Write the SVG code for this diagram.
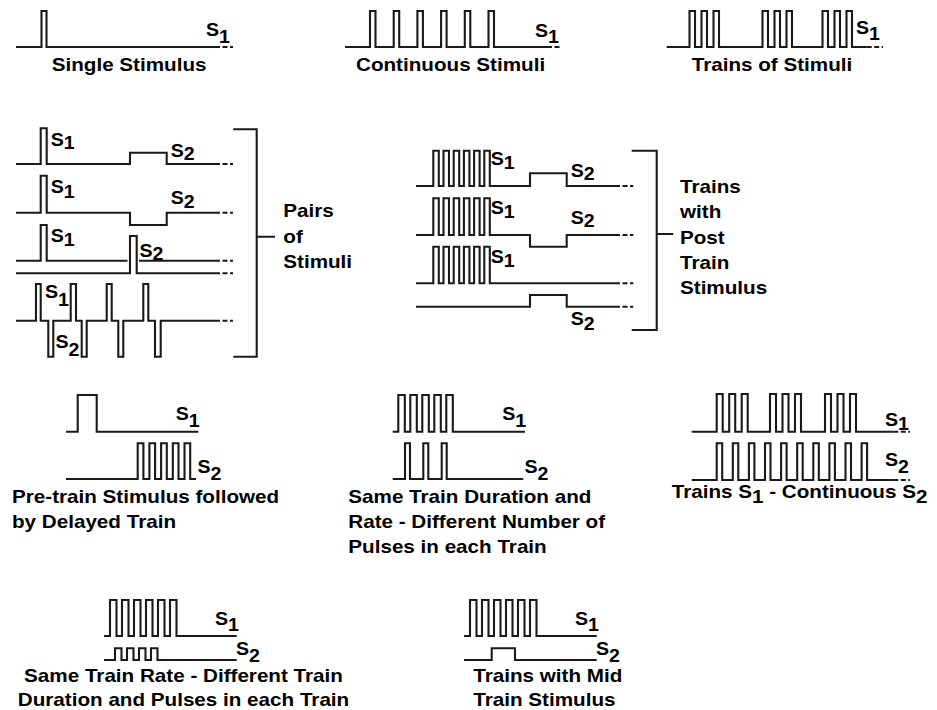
<svg xmlns="http://www.w3.org/2000/svg" width="937" height="710" viewBox="0 0 937 710">
<style>
.w{fill:none;stroke:#1a1a1a;stroke-width:2.1;stroke-linejoin:miter;stroke-linecap:butt}
.d{fill:none;stroke:#1a1a1a;stroke-width:2.1;stroke-dasharray:5 2.5}
.t{font-family:"Liberation Sans",Arial,sans-serif;font-weight:bold;font-size:17.5px;fill:#000}
.s{font-family:"Liberation Sans",Arial,sans-serif;font-weight:bold;font-size:17.5px;fill:#000}
</style>
<rect width="937" height="710" fill="#fff"/>

<g id="single-stimulus">
<path class="w" d="M16,47 H41.5 V11 H46.5 V47 H215"/>
<path class="d" d="M215,47 H233"/>
<text class="s" transform="matrix(1.12 0 0 1 206 35.7)">S<tspan dy="7.5">1</tspan></text>
<text class="t" transform="matrix(1.18 0 0 1 51.7 70.7)">Single Stimulus</text>
</g>

<g id="continuous-stimuli">
<path class="w" d="M345,47 H370 V11 H375.5 V47 H393.7 V11 H399.2 V47 H417.4 V11 H422.9 V47 H441.1 V11 H446.6 V47 H464.8 V11 H470.3 V47 H488.5 V11 H494 V47 H547"/>
<path class="d" d="M547,47 H562"/>
<text class="s" transform="matrix(1.12 0 0 1 535 37)">S<tspan dy="6">1</tspan></text>
<text class="t" transform="matrix(1.18 0 0 1 356 70.7)">Continuous Stimuli</text>
</g>

<g id="trains-of-stimuli">
<path class="w" d="M666.7,47 H689.5 V11 H695 V47 H701.5 V11 H707 V47 H713.5 V11 H719 V47 H762.5 V11 H768 V47 H774.5 V11 H780 V47 H786.5 V11 H792 V47 H822.5 V11 H828 V47 H834.5 V11 H840 V47 H846.5 V11 H852 V47 H866.7"/>
<path class="d" d="M866.7,47 H883"/>
<text class="s" transform="matrix(1.12 0 0 1 856 33.5)">S<tspan dy="6.5">1</tspan></text>
<text class="t" transform="matrix(1.18 0 0 1 691.7 70.7)">Trains of Stimuli</text>
</g>

<g id="pairs-of-stimuli">
<path class="w" d="M16,164 H40.7 V128.3 H46.7 V164 H130 V152.7 H166.7 V164 H215"/>
<path class="d" d="M215,164 H233"/>
<text class="s" transform="matrix(1.12 0 0 1 50.7 146)">S<tspan dy="3.3">1</tspan></text>
<text class="s" transform="matrix(1.12 0 0 1 170.7 157.3)">S<tspan dy="2.7">2</tspan></text>

<path class="w" d="M16,212.7 H40.7 V175.7 H46.7 V212.7 H130 V225 H166.7 V212.7 H215"/>
<path class="d" d="M215,212.7 H233"/>
<text class="s" transform="matrix(1.12 0 0 1 50.7 193.3)">S<tspan dy="4.4">1</tspan></text>
<text class="s" transform="matrix(1.12 0 0 1 170.7 204.3)">S<tspan dy="3.4">2</tspan></text>

<path class="w" d="M16,260.7 H40.7 V225 H46.7 V260.7 H127.5 M139,260.7 H215"/>
<path class="d" d="M215,260.7 H233"/>
<path class="w" d="M16,273.3 H130 V236 H136.7 V273.3 H215"/>
<path class="d" d="M215,273.3 H233"/>
<text class="s" transform="matrix(1.12 0 0 1 50.7 241.7)">S<tspan dy="4.3">1</tspan></text>
<text class="s" transform="matrix(1.12 0 0 1 139.5 256.7)">S<tspan dy="3.3">2</tspan></text>

<path class="w" d="M16,320.7 H36 V284 H40.7 V320.7 H48.3 V356.7 H53.3 V320.7 H70.7 V284 H76 V320.7 H81.7 V356.7 H86.7 V320.7 H106.7 V284 H111.7 V320.7 H118.3 V356.7 H123.3 V320.7 H143.3 V284 H148.3 V320.7 H155 V356.7 H160.7 V320.7 H215"/>
<path class="d" d="M215,320.7 H233"/>
<text class="s" transform="matrix(1.12 0 0 1 45 298.3)">S<tspan dy="8">1</tspan></text>
<text class="s" transform="matrix(1.12 0 0 1 55.5 348.3)">S<tspan dy="8">2</tspan></text>

<path class="w" d="M233.3,129.3 H256.7 V356.7 H233.3 M256.7,236.7 H275"/>
<text class="t" transform="matrix(1.18 0 0 1 283.3 217)">Pairs</text>
<text class="t" transform="matrix(1.18 0 0 1 283.3 242.5)">of</text>
<text class="t" transform="matrix(1.18 0 0 1 283.3 267.5)">Stimuli</text>
</g>

<g id="trains-post-train-stimulus">
<path class="w" d="M416,186 H433.3 V150.7 H438.8 V186 H443.5 V150.7 H449 V186 H453.7 V150.7 H459.2 V186 H463.9 V150.7 H469.4 V186 H474.1 V150.7 H479.6 V186 H484.3 V150.7 H489.8 V186 H530 V173.3 H566.7 V186 H615"/>
<path class="d" d="M615,186 H633.3"/>
<text class="s" transform="matrix(1.12 0 0 1 490.7 165)">S<tspan dy="4.3">1</tspan></text>
<text class="s" transform="matrix(1.12 0 0 1 570.7 177.3)">S<tspan dy="2.7">2</tspan></text>

<path class="w" d="M416,235 H433.3 V198.3 H438.8 V235 H443.5 V198.3 H449 V235 H453.7 V198.3 H459.2 V235 H463.9 V198.3 H469.4 V235 H474.1 V198.3 H479.6 V235 H484.3 V198.3 H489.8 V235 H530 V246.7 H566.7 V235 H615"/>
<path class="d" d="M615,235 H633.3"/>
<text class="s" transform="matrix(1.12 0 0 1 490.7 214)">S<tspan dy="4">1</tspan></text>
<text class="s" transform="matrix(1.12 0 0 1 570.7 224)">S<tspan dy="3">2</tspan></text>

<path class="w" d="M416,283.3 H433.3 V246.7 H438.8 V283.3 H443.5 V246.7 H449 V283.3 H453.7 V246.7 H459.2 V283.3 H463.9 V246.7 H469.4 V283.3 H474.1 V246.7 H479.6 V283.3 H484.3 V246.7 H489.8 V283.3 H615"/>
<path class="d" d="M615,283.3 H633.3"/>
<text class="s" transform="matrix(1.12 0 0 1 490.7 262.7)">S<tspan dy="4">1</tspan></text>

<path class="w" d="M416,306.7 H530 V295 H566.7 V306.7 H615"/>
<path class="d" d="M615,306.7 H633.3"/>
<text class="s" transform="matrix(1.12 0 0 1 570.7 325)">S<tspan dy="5">2</tspan></text>

<path class="w" d="M631.7,150.7 H656.7 V330 H631.7 M656.7,234 H673.3"/>
<text class="t" transform="matrix(1.18 0 0 1 680 192.5)">Trains</text>
<text class="t" transform="matrix(1.18 0 0 1 680 218)">with</text>
<text class="t" transform="matrix(1.18 0 0 1 680 243.5)">Post</text>
<text class="t" transform="matrix(1.18 0 0 1 680 268.5)">Train</text>
<text class="t" transform="matrix(1.18 0 0 1 680 293.5)">Stimulus</text>
</g>

<g id="pre-train-delayed-train">
<path class="w" d="M66,431.7 H77.7 V395 H96.7 V431.7 H198.3"/>
<path class="w" d="M66,479 H137.7 V443.3 H143.4 V479 H149.4 V443.3 H155.1 V479 H161.1 V443.3 H166.8 V479 H172.8 V443.3 H178.5 V479 H184.5 V443.3 H190.2 V479 H196"/>
<text class="s" transform="matrix(1.12 0 0 1 175.7 420)">S<tspan dy="6.7">1</tspan></text>
<text class="s" transform="matrix(1.12 0 0 1 197.5 473.3)">S<tspan dy="6.7">2</tspan></text>
<text class="t" transform="matrix(1.18 0 0 1 12 503.3)">Pre-train Stimulus followed</text>
<text class="t" transform="matrix(1.18 0 0 1 12 528.3)">by Delayed Train</text>
</g>

<g id="same-duration-rate">
<path class="w" d="M392.7,431.7 H398.3 V395 H404.8 V431.7 H410.3 V395 H416.8 V431.7 H422.3 V395 H428.8 V431.7 H434.3 V395 H440.8 V431.7 H446.3 V395 H452.8 V431.7 H525"/>
<path class="w" d="M392.7,479 H405 V443.3 H410 V479 H423.3 V443.3 H428.3 V479 H441.7 V443.3 H446.7 V479 H523.3"/>
<text class="s" transform="matrix(1.12 0 0 1 502.3 420)">S<tspan dy="6.7">1</tspan></text>
<text class="s" transform="matrix(1.12 0 0 1 524.5 473.3)">S<tspan dy="6.7">2</tspan></text>
<text class="t" transform="matrix(1.18 0 0 1 348.3 503.3)">Same Train Duration and</text>
<text class="t" transform="matrix(1.18 0 0 1 348.3 528.3)">Rate - Different Number of</text>
<text class="t" transform="matrix(1.18 0 0 1 348.3 553.3)">Pulses in each Train</text>
</g>

<g id="trains-continuous">
<path class="w" d="M691.7,431.7 H716.7 V394 H722.7 V431.7 H729.2 V394 H735.2 V431.7 H741.7 V394 H747.7 V431.7 H770 V394 H776 V431.7 H782.5 V394 H788.5 V431.7 H795 V394 H801 V431.7 H825 V394 H831 V431.7 H837.5 V394 H843.5 V431.7 H850 V394 H856 V431.7 H893.3"/>
<path class="d" d="M893.3,431.7 H910"/>
<path class="w" d="M691.7,480 H716.7 V443.3 H722.2 V480 H732.8 V443.3 H738.3 V480 H748.9 V443.3 H754.4 V480 H765 V443.3 H770.5 V480 H781.1 V443.3 H786.6 V480 H797.2 V443.3 H802.7 V480 H813.3 V443.3 H818.8 V480 H829.4 V443.3 H834.9 V480 H845.5 V443.3 H851 V480 H861.6 V443.3 H867.1 V480 H893.3"/>
<path class="d" d="M893.3,480 H910"/>
<text class="s" transform="matrix(1.12 0 0 1 885 425.7)">S<tspan dy="4.3">1</tspan></text>
<text class="s" transform="matrix(1.12 0 0 1 885 466)">S<tspan dy="6.7">2</tspan></text>
<text class="t" transform="matrix(1.18 0 0 1 671.7 498)">Trains S<tspan dy="5">1</tspan><tspan dy="-5"> - Continuous S</tspan><tspan dy="5">2</tspan></text>
</g>

<g id="same-rate-different-duration">
<path class="w" d="M104,636 H110 V600 H116.5 V636 H122 V600 H128.5 V636 H134 V600 H140.5 V636 H146 V600 H152.5 V636 H158 V600 H164.5 V636 H170 V600 H176.5 V636 H236.7"/>
<path class="w" d="M104,660 H115 V648.3 H121.5 V660 H127 V648.3 H133.5 V660 H139 V648.3 H145.5 V660 H151 V648.3 H157.5 V660 H236.7"/>
<text class="s" transform="matrix(1.12 0 0 1 215 625)">S<tspan dy="5.7">1</tspan></text>
<text class="s" transform="matrix(1.12 0 0 1 236 655)">S<tspan dy="6.7">2</tspan></text>
<text class="t" text-anchor="middle" transform="matrix(1.18 0 0 1 183.5 681.7)">Same Train Rate - Different Train</text>
<text class="t" text-anchor="middle" transform="matrix(1.18 0 0 1 183.5 706)">Duration and Pulses in each Train</text>
</g>

<g id="trains-mid-train-stimulus">
<path class="w" d="M464,636 H470 V600 H476.5 V636 H482 V600 H488.5 V636 H494 V600 H500.5 V636 H506 V600 H512.5 V636 H518 V600 H524.5 V636 H530 V600 H536.5 V636 H596.7"/>
<path class="w" d="M464,660 H491.7 V648.3 H515 V660 H596.7"/>
<text class="s" transform="matrix(1.12 0 0 1 575 625)">S<tspan dy="5.7">1</tspan></text>
<text class="s" transform="matrix(1.12 0 0 1 596 655)">S<tspan dy="6.7">2</tspan></text>
<text class="t" transform="matrix(1.18 0 0 1 473.3 681.7)">Trains with Mid</text>
<text class="t" transform="matrix(1.18 0 0 1 473.3 706)">Train Stimulus</text>
</g>
</svg>
